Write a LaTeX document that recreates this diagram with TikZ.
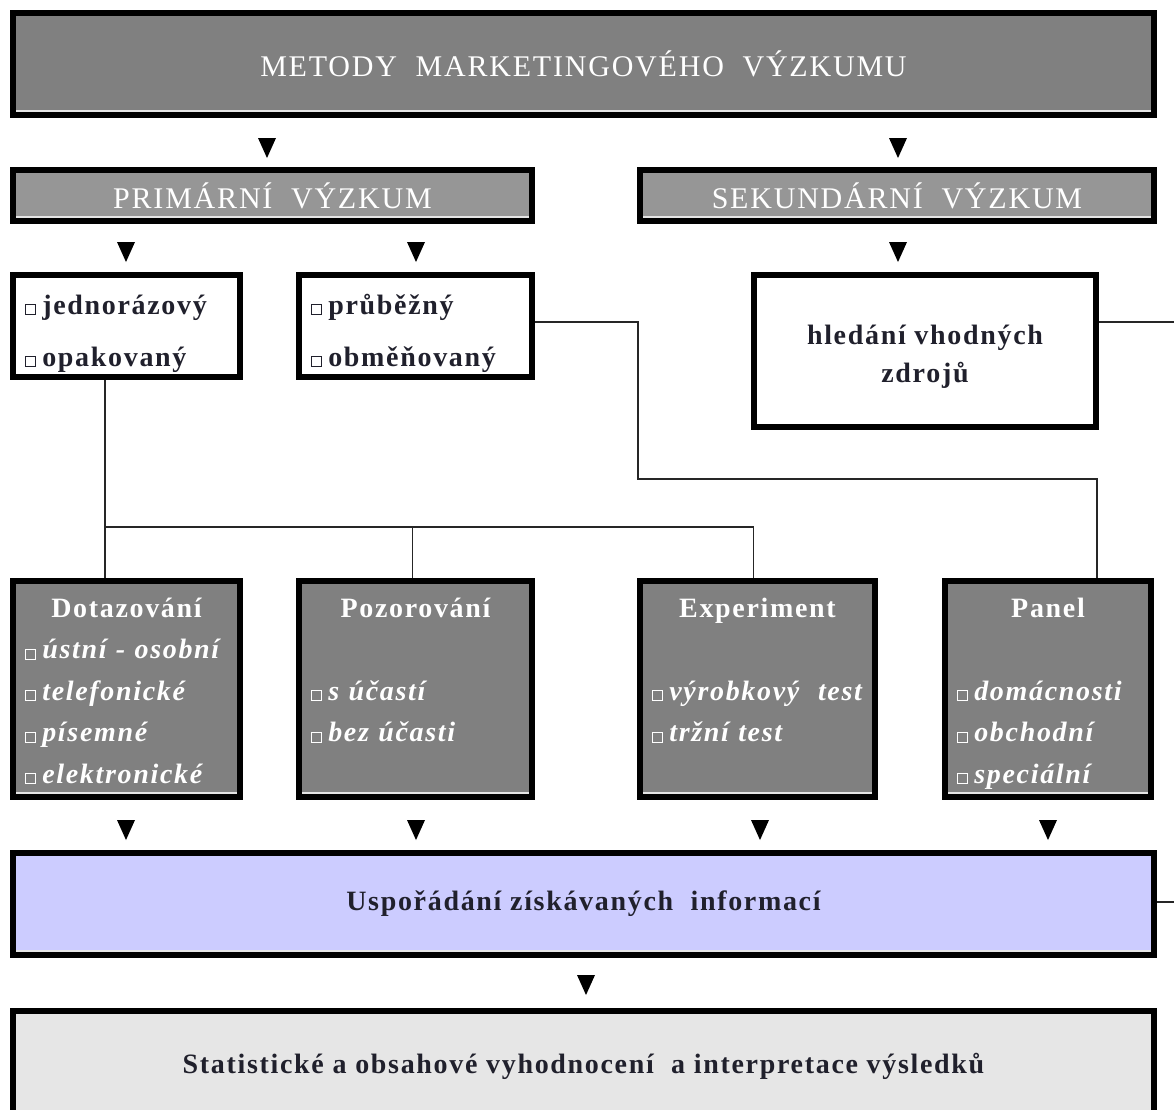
\documentclass[tikz,border=0pt]{standalone}
\usepackage{fontspec}
\setmainfont{Liberation Serif}[LetterSpace=6]
\definecolor{topgray}{RGB}{128,128,128}
\definecolor{midgray}{RGB}{150,150,150}
\definecolor{infolav}{RGB}{204,204,255}
\definecolor{evalgray}{RGB}{230,230,230}
\definecolor{ink}{RGB}{32,32,44}
\newcommand{\sqb}{{\setlength{\fboxsep}{0pt}\setlength{\fboxrule}{0.9pt}\fbox{\rule{0pt}{9pt}\hspace{9.5pt}}}\hspace{6pt}}
\newcommand{\mhead}[1]{\makebox[\linewidth]{\upshape #1}}

\begin{document}
\begin{tikzpicture}[
    x=1pt, y=-1pt,
    frame/.style={draw=black, line width=6pt, inner xsep=12pt, inner ysep=0pt},
    sheen/.style={path picture={\draw[white!90!black, line width=2pt]
        ([yshift=4pt]path picture bounding box.south west) --
        ([yshift=4pt]path picture bounding box.south east);}},
    head/.style={frame, sheen, fill=topgray, text=white, font=\fontsize{30}{36}\selectfont},
    sub/.style={frame, sheen, fill=midgray, text=white, font=\fontsize{30}{36}\selectfont,
                minimum height=51pt},
    kind/.style={frame, fill=white, text=ink, align=left, minimum height=102pt,
                 font=\bfseries\fontsize{28}{52}\selectfont, text height=34pt, text depth=58pt},
    meth/.style={frame, sheen, fill=topgray, text=white, align=left, minimum height=216pt,
                 font=\bfseries\itshape\fontsize{28}{41.5}\selectfont, text height=22pt, text depth=166pt},
    band/.style={frame, sheen, minimum width=1141pt, text=ink,
                 font=\bfseries\fontsize{28}{34}\selectfont},
    wire/.style={draw=black!85, line width=1.6pt}
  ]
  \useasboundingbox (0,0) rectangle (1174,1109);

  \node[head, minimum width=1141pt, minimum height=102pt] (title) at (583.5,64)
    {METODY\ \ MARKETINGOVÉHO\ \ VÝZKUMU};
  \node[sub, minimum width=519pt] (prim) at (272.5,195.5) {PRIMÁRNÍ\ \ VÝZKUM};
  \node[sub, minimum width=514pt] (sek)  at (897,195.5)   {SEKUNDÁRNÍ\ \ VÝZKUM};

  \node[kind, minimum width=227pt, text width=203pt] (jedn) at (126.5,326)
    {\sqb jednorázový\\ \sqb opakovaný};
  \node[kind, minimum width=233pt, text width=209pt] (prub) at (415.5,326)
    {\sqb průběžný\\ \sqb obměňovaný};
  \node[frame, fill=white, text=ink, align=center, minimum width=342pt, minimum height=152pt,
        font=\bfseries\fontsize{28}{38}\selectfont, text height=68pt] (hled) at (925,351)
    {hledání vhodných\\ zdrojů};

  % metody sberu dat
  \node[meth, minimum width=227pt, text width=203pt] (dot) at (126.5,689)
    {\mhead{Dotazování}\\
     \sqb ústní~-~osobní\\ \sqb telefonické\\ \sqb písemné\\ \sqb elektronické};
  \node[meth, minimum width=233pt, text width=209pt] (poz) at (415.5,689)
    {\mhead{Pozorování}\\
     \mbox{}\\ \sqb s~účastí\\ \sqb bez~účasti\\ \mbox{}};
  \node[meth, minimum width=235pt, text width=211pt] (exp) at (757.5,689)
    {\mhead{Experiment}\\
     \mbox{}\\ \sqb výrobkový\ \ test\\ \sqb tržní~test\\ \mbox{}};
  \node[meth, minimum width=206pt, text width=182pt] (pan) at (1048,689)
    {\mhead{Panel}\\
     \mbox{}\\ \sqb domácnosti\\ \sqb obchodní\\ \sqb speciální};

  \node[band, fill=infolav, minimum height=102pt] (usp) at (583.5,904)
    {Uspořádání získávaných\ \ informací};
  \node[band, fill=evalgray, minimum height=110pt] (stat) at (583.5,1066)
    {Statistické a obsahové vyhodnocení\ \ a interpretace výsledků};

  \coordinate (fork) at (105,527);
  \coordinate (turn) at (638,479);
  \coordinate (bend) at (1097,479);
  \coordinate (edgeA) at (1174,322);
  \coordinate (edgeB) at (1174,902);

  \draw[wire] (jedn.south -| fork) -- (dot.north -| fork);
  \draw[wire] (fork) -- ([xshift=-4pt]fork -| exp.north) -- ([xshift=-4pt]exp.north);
  \draw[wire] ([xshift=-3pt]fork -| poz.north) -- ([xshift=-3pt]poz.north);
  \draw[wire] ([yshift=4pt]prub.east) -| (turn) -- (bend) -- (bend |- pan.north);
  \draw[wire] (hled.east |- edgeA) -- (edgeA);
  \draw[wire] (usp.east |- edgeB) -- (edgeB);

  % sipky
  \foreach \x/\y in {267/148, 898/148, 126/252, 416/252, 898/252,
                     126/830, 416/830, 760/830, 1048/830, 586/985}
    \fill (\x-9,\y-10) -- (\x+9,\y-10) -- (\x,\y+10) -- cycle;
\end{tikzpicture}
\end{document}
